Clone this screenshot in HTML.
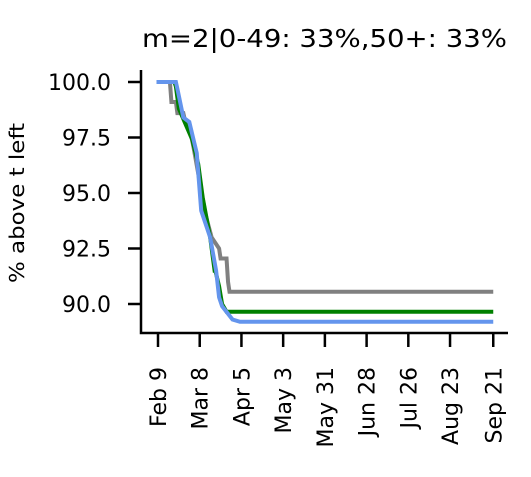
<!DOCTYPE html>
<html><head><meta charset="utf-8"><style>
body{margin:0;background:#fff;}
svg text{font-family:"DejaVu Sans","Liberation Sans",sans-serif;fill:#000;}
</style></head><body>
<svg id="chart" width="531" height="472">
<text x="142" y="47" font-size="25" textLength="365" lengthAdjust="spacingAndGlyphs">m=2|0-49: 33%,50+: 33%</text>
<text transform="translate(24,283) rotate(-90)" font-size="20" textLength="160" lengthAdjust="spacingAndGlyphs">% above t left</text>
<g id="plot"></g>
</svg>
<script>
const yTicks=[100.0,97.5,95.0,92.5,90.0];
const xTickLabels=["Feb 9","Mar 8","Apr 5","May 3","May 31","Jun 28","Jul 26","Aug 23","Sep 21"];
const xTickDays=[0,28,56,84,112,140,168,196,225];
const grayDays=[-1,8,9,12,13,17,18,21,24,28,32,36,41,42,46,47,48,225];
const grayVals=[100,100,99.1,99.1,98.6,98.6,98.3,98.0,97.0,95.5,94.0,93.0,92.5,92.05,92.05,91.0,90.55,90.55];
const greenDays=[-1,11,12,14,23,27,30,35,38,38.5,41,43,46,225];
const greenVals=[100,100,99.8,98.8,97.4,96.3,94.8,93.0,91.5,91.5,90.8,90.0,89.65,89.65];
const blueDays=[-1,12,13,17,21,26,29,35,39,41,43,50,55,225];
const blueVals=[100,100,99.7,98.4,98.2,96.8,94.2,93.0,91.5,90.3,89.9,89.3,89.2,89.2];
const X=d=>158+d*1.49, Y=v=>82+(100-v)*22.2;
const ns="http://www.w3.org/2000/svg", g=document.getElementById('plot');
function mk(t,a){const e=document.createElementNS(ns,t);for(const k in a)e.setAttribute(k,a[k]);g.appendChild(e);return e;}
const ax=mk('path',{d:'M141,70V333H508',fill:'none',stroke:'#000','stroke-width':2.5});


yTicks.forEach(v=>{
 const t=mk('line',{x1:128,x2:141,y1:Y(v),y2:Y(v),stroke:'#000','stroke-width':2.5});
 
 
 const l=mk('text',{x:111,y:Y(v)+8,'font-size':22,'text-anchor':'end'});l.textContent=v.toFixed(1);
 
 
});
xTickDays.forEach((d,i)=>{
 const t=mk('line',{x1:X(d),x2:X(d),y1:333,y2:347,stroke:'#000','stroke-width':2.5});
 
 
 const l=mk('text',{transform:`translate(${X(d)+8},367) rotate(-90)`,'font-size':22,'text-anchor':'end'});l.textContent=xTickLabels[i];
 
 
});
function line(ds,vs,c,name){
 const p=mk('polyline',{points:ds.map((d,i)=>X(d)+','+Y(vs[i])).join(' '),fill:'none',stroke:c,'stroke-width':4});
 
 
}
line(grayDays,grayVals,'#808080','series-gray');
line(greenDays,greenVals,'#008000','series-green');
line(blueDays,blueVals,'#6495ED','series-blue');
</script>
</body></html>
